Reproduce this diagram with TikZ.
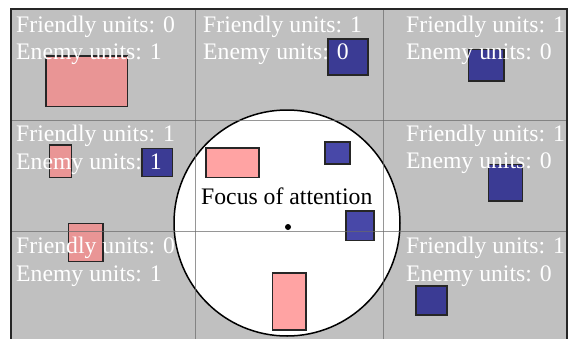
\documentclass[tikz,border=0pt]{standalone}
\usepackage{fontspec}
\setmainfont{Liberation Serif}
\definecolor{bggray}{HTML}{C0C0C0}
\definecolor{gridgray}{HTML}{6A6A6A}
\definecolor{pinkout}{HTML}{E99595}
\definecolor{blueout}{HTML}{3B3B94}
\definecolor{pinkin}{HTML}{FFA3A3}
\definecolor{bluein}{HTML}{4848A8}
\begin{document}
\begin{tikzpicture}[x=1pt,y=-1pt,
  unit/.style={draw=black!85,line width=1.2pt},
  lbl/.style={anchor=base west,inner sep=0pt,text=white,font=\fontsize{23.7}{27}\selectfont},
  gridline/.style={draw=gridgray,line width=1pt,opacity=0.7}]
\useasboundingbox (0,0) rectangle (568,338);
% background
\fill[bggray] (10,9) rectangle (567,340);
% focus circle
\node[circle,draw=black,line width=1.5pt,fill=white,minimum size=226pt,inner sep=0pt] (focus) at (287,223) {};
% units outside
\draw[unit,fill=pinkout] (46,56) rectangle (127.5,106.5);
\draw[unit,fill=blueout] (328,39) rectangle (368,75);
\draw[unit,fill=blueout] (468.5,49.5) rectangle (504,81);
\draw[unit,fill=pinkout] (49.5,145) rectangle (71.5,177.5);
\draw[unit,fill=blueout] (142,148.5) rectangle (172.5,176.5);
\draw[unit,fill=pinkout] (68.5,223.5) rectangle (103,261.5);
\draw[unit,fill=blueout] (488.5,164.5) rectangle (522.5,201);
\draw[unit,fill=blueout] (416,286) rectangle (447,315);
% units inside the circle
\draw[unit,fill=pinkin] (206,148) rectangle (259,177.5);
\draw[unit,fill=bluein] (325,142) rectangle (350,164);
\draw[unit,fill=bluein] (346,211) rectangle (374,240.5);
\draw[unit,fill=pinkin] (272.5,273) rectangle (306,330);
% grid
\coordinate (v1t) at (195.5,9); \coordinate (v1b) at (195.5,340);
\coordinate (v2t) at (383,9); \coordinate (v2b) at (383,340);
\coordinate (h1l) at (10,120.5); \coordinate (h1r) at (567,120.5);
\coordinate (h2l) at (10,231); \coordinate (h2r) at (567,231);
\draw[gridline] (v1t) -- (v1b);
\draw[gridline] (v2t) -- (v2b);
\draw[gridline] (h1l) -- (h1r);
\draw[gridline] (h2l) -- (h2r);
% frame
\coordinate (fbl) at (10.5,340); \coordinate (ftl) at (10.5,9);
\coordinate (ftr) at (566.5,9); \coordinate (fbr) at (566.5,340);
\draw[black!85,line width=2pt] (fbl) -- (ftl) -- (ftr) -- (fbr);
% labels
\node[lbl] (f11) at (16,32) {Friendly units: 0};
\node[lbl] (e11) at (16,59.5) {Enemy units: 1};
\node[lbl] (f12) at (203,32) {Friendly units: 1};
\node[lbl] (e12) at (203,59.5) {Enemy units: 0};
\node[lbl] (f13) at (406,32) {Friendly units: 1};
\node[lbl] (e13) at (406,59.5) {Enemy units: 0};
\node[lbl] (f21) at (16,141.5) {Friendly units: 1};
\node[lbl] (e21) at (16,169) {Enemy units: 1};
\node[lbl] (f23) at (406,141) {Friendly units: 1};
\node[lbl] (e23) at (406,168.5) {Enemy units: 0};
\node[lbl] (f31) at (16,253) {Friendly units: 0};
\node[lbl] (e31) at (16,281) {Enemy units: 1};
\node[lbl] (f33) at (406,253) {Friendly units: 1};
\node[lbl] (e33) at (406,281) {Enemy units: 0};
\node[anchor=base west,inner sep=0pt,font=\fontsize{23.7}{27}\selectfont] (foa) at (201,204) {Focus of attention};
\fill[black] (288,227) circle (3pt) node (dot) {};
\end{tikzpicture}
\end{document}
